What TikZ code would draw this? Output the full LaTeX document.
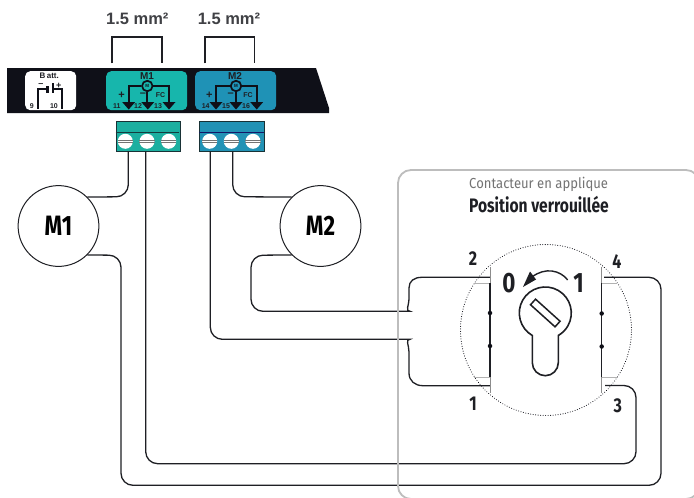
\documentclass[tikz,border=0pt]{standalone}
\usepackage{fontspec}
\setmainfont{Liberation Sans}
\newfontfamily\din[FakeStretch=0.8]{Fira Sans}
\newfontfamily\dinlight[FakeStretch=0.9]{Fira Sans}
\definecolor{ink}{HTML}{1E1F24}
\definecolor{bandblack}{HTML}{0F1018}
\definecolor{tealA}{HTML}{17B6AC}
\definecolor{blueA}{HTML}{1F92B6}
\definecolor{tealB}{HTML}{1CAFA0}
\definecolor{blueB}{HTML}{2292B5}
\definecolor{boxgrey}{HTML}{BDBDBD}
\tikzset{
  wire/.style={draw=ink,line width=1.3pt},
  motor/.style={circle,draw=ink,line width=1pt,fill=white,minimum size=80.8pt,inner sep=0pt,font=\din\bfseries\fontsize{28}{28}\selectfont},
  bracket/.style={draw=ink,line width=1.6pt},
  gauge/.style={font=\bfseries\fontsize{16.5}{16.5}\selectfont,text=ink!85!white},
  panel/.style={rounded corners=5pt,inner sep=0pt,anchor=north west},
  term/.style={draw=ink!80!teal,line width=1pt,inner sep=0pt,anchor=north west,minimum height=30pt,minimum width=64pt},
  screw/.style={circle,fill=white,minimum size=15pt,inner sep=0pt},
  tiny/.style={font=\bfseries\fontsize{7}{7}\selectfont,text=ink,inner sep=0pt},
  sign/.style={font=\bfseries\fontsize{11}{11}\selectfont,text=ink,inner sep=0pt},
  head/.style={font=\bfseries\fontsize{10}{10}\selectfont,text=ink,inner sep=0pt},
  sym/.style={draw=bandblack,line width=2pt},
  tip/.style={fill=bandblack,draw=none},
  motsym/.style={circle,draw=bandblack,line width=1.7pt,minimum size=10.5pt,inner sep=0pt,font=\bfseries\fontsize{4.5}{4.5}\selectfont,text=bandblack},
  num/.style={font=\din\bfseries\fontsize{20}{20}\selectfont,text=ink,inner sep=0pt},
  bignum/.style={font=\din\bfseries\fontsize{28}{28}\selectfont,text=ink,inner sep=0pt},
  contact/.style={draw=ink,line width=1.4pt},
  greyline/.style={draw=black!45,line width=1pt},
  lightline/.style={draw=black!30,line width=.9pt},
  dot/.style={circle,fill=bandblack,minimum size=4.5pt,inner sep=0pt},
}
\newcommand{\screwmark}[1]{%
  \node[screw] (#1) at (#1c) {};
  \draw[black!55,line width=.8pt] ([yshift=-1.4pt]#1.west) -- ([yshift=-1.4pt]#1.east);
  \draw[black!55,line width=.8pt] ([yshift=1.4pt]#1.west) -- ([yshift=1.4pt]#1.east);
}
\begin{document}
\begin{tikzpicture}[x=1pt,y=-1pt]
\useasboundingbox (0,0) rectangle (694,498);
\clip (0,0) rectangle (694,498);
\fill[white] (0,0) rectangle (694,498);

% band
\fill[bandblack] (7,68) -- (316,68) -- (329,108) -- (329,113) -- (7,113) -- cycle;
\node[panel,fill=white,minimum width=51pt,minimum height=39pt] (batt) at (25,71) {};
\node[panel,fill=tealA,minimum width=81pt,minimum height=39pt] (pm1) at (106,71) {};
\node[panel,fill=blueA,minimum width=81pt,minimum height=39pt] (pm2) at (195,71) {};

% gauge brackets and labels
\node[gauge] (g1) at (137.3,19) {1.5 mm²};
\node[gauge] (g2) at (229,19) {1.5 mm²};
\draw[bracket] (111.7,63.3) -- (111.7,36.7) -- (162,36.7) -- (162,63.3);
\draw[bracket] (204.7,63.3) -- (204.7,36.7) -- (254.3,36.7) -- (254.3,63.3);

% battery
\node[head,font=\bfseries\fontsize{8}{8}\selectfont] (battl) at (49.3,75.5) {B\,att.};
\draw[sym] (38,108.7) -- (38,89) -- (46,89);
\draw[sym,line width=3.5pt] (47.5,86) -- (47.5,92.7);
\draw[sym,line width=1.7pt] (53,83) -- (53,93);
\draw[sym] (53,89) -- (62,89) -- (62,108.7);
\node[sign,font=\bfseries\fontsize{9}{9}\selectfont] (bm) at (41,85) {–};
\node[sign,font=\bfseries\fontsize{9}{9}\selectfont] (bp) at (58.7,85.5) {+};
\node[tiny] (b9) at (31.7,105.7) {9};
\node[tiny] (b10) at (54,105.7) {10};

% M1 symbol
\node[head] (m1t) at (147,75.7) {M1};
\node[motsym] (m1s) at (147.3,86) {M};
\draw[sym] (m1s.west) -- (128.7,86) -- (128.7,103);
\draw[sym] (m1s.east) -- (169,86) -- (169,103);
\draw[sym] (m1s.south) -- (147.3,103);
\foreach \x in {128.7,147.8,169}{\fill[tip] (\x-6.5,102) -- (\x+6.5,102) -- (\x,109.5) -- cycle;}
\node[sign] (m1p) at (121.7,95) {+};
\node[sign] (m1m) at (143,95) {–};
\node[tiny] (m1f) at (160.5,94.7) {FC};
\node[tiny] (n11) at (116.7,106) {11};
\node[tiny] (n12) at (138,106) {12};
\node[tiny] (n13) at (158,106) {13};

% M2 symbol
\node[head] (m2t) at (235,75.7) {M2};
\node[motsym] (m2s) at (236,86) {M};
\draw[sym] (m2s.west) -- (216,86) -- (216,103);
\draw[sym] (m2s.east) -- (256.7,86) -- (256.7,103);
\draw[sym] (m2s.south) -- (236,103);
\foreach \x in {216,236,256.7}{\fill[tip] (\x-6.5,102) -- (\x+6.5,102) -- (\x,109.5) -- cycle;}
\node[sign] (m2p) at (209.3,95) {+};
\node[sign] (m2m) at (230.7,95) {–};
\node[tiny] (m2f) at (248,94.7) {FC};
\node[tiny] (n14) at (205.7,106) {14};
\node[tiny] (n15) at (226,106) {15};
\node[tiny] (n16) at (246,106) {16};

% terminals
\node[term,fill=tealB] (tm1) at (115.7,121.3) {};
\node[term,fill=blueB,minimum width=64.7pt] (tm2) at (199.3,121.3) {};
\draw[draw=ink!70!teal,line width=.7pt] (115.7,132) -- (179.3,132);
\draw[draw=ink!70!blue,line width=.7pt] (199.3,132) -- (264,132);
\coordinate (sac) at (125.3,141.3);\coordinate (sbc) at (147,141.3);\coordinate (scc) at (168.7,141.3);
\coordinate (sdc) at (209.7,141.3);\coordinate (sec) at (231.3,141.3);\coordinate (sfc) at (253,141.3);
\screwmark{sa}\screwmark{sb}\screwmark{sc}\screwmark{sd}\screwmark{se}\screwmark{sf}

% motors
\node[motor] (M1) at (58.5,226) {M1};
\node[motor] (M2) at (320.5,226) {M2};

% anchors of free ends
\coordinate (ta) at (128.3,151.3);
\coordinate (tb) at (145.7,151.3);
\coordinate (tc) at (210.3,151.3);
\coordinate (td) at (232.7,151.3);
\coordinate (c2) at (490,277.3);
\coordinate (c1) at (490,385.7);
\coordinate (c4) at (604,277.3);
\coordinate (c3) at (605,385.5);

% wires
\draw[wire,rounded corners=12pt] (ta) -- (128.3,196.7) -- (M1.45);
\draw[wire,rounded corners=12pt] (tb) -- (145.7,463.7) -- (636,463.7) -- (636,385.5) -- (c3);
\draw[wire,rounded corners=12pt] (M1.-45) -- (121,255.3) -- (121,485.3) -- (661,485.3) -- (661,277.3) -- (c4);
\draw[wire,rounded corners=12pt] (td) -- (232.7,196.7) -- (M2.135);
\draw[wire,rounded corners=12pt] (M2.-135) -- (251,255.3) -- (251,311.3) -- (398,311.3)
  [sharp corners] .. controls (405,311.3) and (409,306) .. (409,298) -- (409,288) .. controls (409,281) and (414,277.3) .. (422,277.3) -- (c2);
\draw[wire,rounded corners=12pt] (tc) -- (210.3,339.3) -- (398,339.3)
  [sharp corners] .. controls (405,339.3) and (409,345) .. (409,352) -- (409,373) .. controls (409,381) and (415,385.7) .. (423,385.7) -- (c1);

% contactor box
\draw[boxgrey,line width=1.8pt,rounded corners=13pt] (398,170) rectangle (699,499);
\node[anchor=west,inner sep=0pt,text=black!55,font=\dinlight\fontsize{14.5}{14.5}\selectfont] (capt) at (469,184) {Contacteur en applique};
\node[anchor=west,inner sep=0pt,text=ink,font=\din\bfseries\fontsize{19.5}{19.5}\selectfont] (capb) at (469,204.5) {Position verrouillée};

% dotted circle
\node[circle,draw=bandblack,line width=1pt,dash pattern=on .1pt off 2.4pt,line cap=round,minimum size=171pt,inner sep=0pt] (dial) at (546,330) {};

% contact bars
\draw[greyline] (490,267) -- (490,393);
\draw[greyline] (601.7,267) -- (601.7,393);
\draw[lightline] (474,283) -- (490,283);
\draw[lightline] (474,377) -- (490,377);
\draw[lightline] (601.7,283) -- (617,283);
\draw[lightline] (601.7,377) -- (617,377);
\draw[contact] (490,283) -- (490,377);
\draw[contact] (601.7,283) -- (601.7,377);
\node[dot] (d1) at (490,313) {};
\node[dot] (d2) at (490,346) {};
\node[dot] (d3) at (601.7,313.5) {};
\node[dot] (d4) at (601.7,346.5) {};

% keyhole
\draw[ink,line width=1.6pt] (532.3,335.5) arc[start angle=120,end angle=420,radius=26] -- (558.3,362.7) arc[start angle=0,end angle=180,radius=13] -- cycle;
\node[draw=ink,line width=1.5pt,minimum width=33pt,minimum height=7.5pt,inner sep=0pt,rotate=-42] (slot) at (545.3,313) {};

% rotation arrow
\draw[ink,line width=1.4pt] (567.7,280) .. controls (560,270) and (545,267) .. (532,277);
\fill[ink] (523,287) -- (530,271.5) -- (536,279.5) -- cycle;

% position labels
\node[num] (l2) at (473,259) {2};
\node[num] (l4) at (617,262) {4};
\node[num] (l1) at (473,404) {1};
\node[num] (l3) at (617.7,406) {3};
\node[bignum] (l0) at (509,283) {0};
\node[bignum] (l11) at (578.5,283) {1};
\end{tikzpicture}
\end{document}
